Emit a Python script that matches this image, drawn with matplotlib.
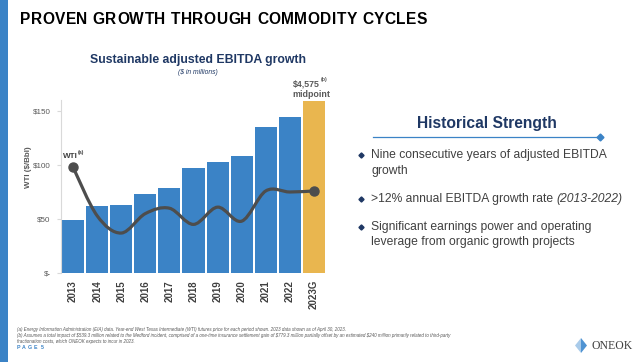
import matplotlib
matplotlib.use("Agg")
import matplotlib.pyplot as plt
import matplotlib.patches as patches
from matplotlib.path import Path
import numpy as np

W, H = 640, 362

# ---- data ----
years = ["2013", "2014", "2015", "2016", "2017", "2018", "2019", "2020", "2021", "2022", "2023G"]
ebitda = [1415, 1771, 1797, 2105, 2265, 2796, 2939, 3098, 3868, 4134, 4575]  # $ millions
wti = [98, 53, 37, 55, 60, 45, 61, 48, 76, 75, 76]  # $/Bbl
wti_ticks = [0, 50, 100, 150]
wti_ticklabels = ["$-", "$50", "$100", "$150"]
bullets = [
    ["Nine consecutive years of adjusted EBITDA", "growth"],
    [">12% annual EBITDA growth rate ", "(2013-2022)"],
    ["Significant earnings power and operating", "leverage from organic growth projects"],
]
footnotes = [
    "(a) Energy Information Administration (EIA) data. Year-end West Texas Intermediate (WTI) futures price for each period shown. 2023 data shown as of April 30, 2023.",
    "(b) Assumes a total impact of $539.3 million related to the Medford incident, comprised of a one-time insurance settlement gain of $779.3 million partially offset by an estimated $240 million primarily related to third-party",
    "fractionation costs, which ONEOK expects to incur in 2023.",
]

BLUE = "#3b83c6"
GOLD = "#e9b64f"
NAVY = "#1f3864"
GREY = "#595959"
DARK = "#404040"
FONT = ["Liberation Sans", "DejaVu Sans"]


def px(x, y):
    # pixel coords (top-left origin) -> figure fraction
    return x / W, 1 - y / H


fig = plt.figure(figsize=(W / 100, H / 100), dpi=100)
fig.patch.set_facecolor("white")
r = fig.canvas.get_renderer()


def fit(t, width):
    """scale a text's font size so that it spans `width` pixels"""
    w = t.get_window_extent(r).width
    t.set_fontsize(t.get_fontsize() * width / w)
    return t


def spaced(x, y, s, gap, space_w, **kw):
    """write text one character at a time with extra letter spacing"""
    for ch in s:
        if ch == " ":
            x += space_w
            continue
        t = fig.text(*px(x, y), ch, ha="left", va="center", **kw)
        x += t.get_window_extent(r).width + gap


# left stripe
fig.add_artist(patches.Rectangle((0, 0), 8 / W, 1, transform=fig.transFigure,
                                 facecolor=BLUE, edgecolor="none"))

# headline
spaced(20, 20, "PROVEN GROWTH THROUGH COMMODITY CYCLES", 0.45, 5,
       fontsize=11.2, fontweight="bold", family=FONT, color="black")

# ---- chart ----
ax = fig.add_axes([61 / W, 1 - 273 / H, 265 / W, 173 / H])
x = np.arange(len(years))
colors = [BLUE] * (len(years) - 1) + [GOLD]
ax.bar(x, ebitda, width=0.92, color=colors, edgecolor="none", zorder=1)
ax.set_xlim(-0.5, len(years) - 0.5)
ax.set_ylim(0, 4575 * 173 / 172.3)
ax.set_yticks([])
ax.set_xticks(x)
ax.set_xticklabels(years, rotation=90, fontsize=7, fontweight="bold",
                   color=DARK, family=FONT)
ax.tick_params(axis="x", length=0, pad=5)
for s in ax.spines.values():
    s.set_visible(False)
ax.patch.set_alpha(0)

ax2 = ax.twinx()
ax2.set_ylim(0, 160.2)
ax2.yaxis.tick_left()
ax2.set_yticks(wti_ticks)
ax2.set_yticklabels(wti_ticklabels, fontsize=5.8, color=GREY, family=FONT)
ax2.tick_params(axis="y", length=3, color="#d9d9d9", pad=4.5, direction="out")
for k, s in ax2.spines.items():
    s.set_visible(k == "left")
ax2.spines["left"].set_color("#d9d9d9")
ax2.spines["left"].set_linewidth(0.8)

# smooth WTI line (bezier through the points, catmull-rom style handles)
pts = np.column_stack([x, wti]).astype(float)
ext = np.vstack([pts[0], pts, pts[-1]])
verts = [tuple(pts[0])]
codes = [Path.MOVETO]
for i in range(len(pts) - 1):
    p0, p1, p2, p3 = ext[i], ext[i + 1], ext[i + 2], ext[i + 3]
    c1 = p1 + (p2 - p0) / 6
    c2 = p2 - (p3 - p1) / 6
    verts += [tuple(c1), tuple(c2), tuple(p2)]
    codes += [Path.CURVE4] * 3
ax2.add_patch(patches.PathPatch(Path(verts, codes), fill=False, edgecolor="#4d4d4d",
                                lw=2.3, capstyle="round", zorder=3))
ax2.plot([x[0], x[-1]], [wti[0], wti[-1]], "o", ms=6.5, color="#4d4d4d", zorder=4)

fig.text(*px(28, 167), "WTI ($/Bbl)", rotation=90, ha="center", va="center",
         fontsize=5.8, fontweight="bold", color=GREY, family=FONT)
fit(fig.text(*px(77.5, 156), "WTI", ha="right", va="center", fontsize=8,
             fontweight="bold", color=DARK, family=FONT), 15)
fig.text(*px(78, 152.5), "(a)", ha="left", va="center", fontsize=3.8,
         fontweight="bold", color=DARK, family=FONT)

fit(fig.text(*px(198.5, 60), "Sustainable adjusted EBITDA growth", ha="center",
             va="center", fontsize=11, fontweight="bold", color=NAVY, family=FONT), 215)
fit(fig.text(*px(198, 73), "($ in millions)", ha="center", va="center",
             fontsize=5.5, style="italic", color=NAVY, family=FONT), 40)
fit(fig.text(*px(320, 83.5), "$4,575", ha="right", va="center", fontsize=8,
             fontweight="bold", color=GREY, family=FONT), 27)
fig.text(*px(320.5, 80), "(b)", ha="left", va="center", fontsize=3.8,
         fontweight="bold", color=GREY, family=FONT)
fit(fig.text(*px(311.5, 94.5), "midpoint", ha="center", va="center", fontsize=8,
             fontweight="bold", color=GREY, family=FONT), 38)

# ---- right panel ----
fit(fig.text(*px(487, 123), "Historical Strength", ha="center", va="center",
             fontsize=14, fontweight="bold", color=NAVY, family=FONT), 140)
fig.add_artist(plt.Line2D([373 / W, 600 / W], [1 - 137.5 / H] * 2,
                          transform=fig.transFigure, color=BLUE, lw=0.9))
fig.add_artist(plt.Line2D([600 / W], [1 - 137.5 / H], transform=fig.transFigure,
                          marker="D", ms=3.5, color=BLUE))

# common size for the bullet text, set from the first line's width
probe = fig.text(0, 0, bullets[0][0], fontsize=10, family=FONT)
fit(probe, 237)
bfs = probe.get_fontsize()
probe.remove()

line_y = [[155, 171], [199.5], [226.5, 242.5]]
for b, ys in zip(bullets, line_y):
    fig.add_artist(plt.Line2D([361 / W], [1 - ys[0] / H], transform=fig.transFigure,
                              marker="D", ms=2.6, color=NAVY, lw=0))
    if len(ys) == 2:
        for s, yy in zip(b, ys):
            fig.text(*px(371, yy), s, ha="left", va="center", fontsize=bfs,
                     color=DARK, family=FONT)
    else:
        t = fig.text(*px(371, ys[0]), b[0], ha="left", va="center", fontsize=bfs,
                     color=DARK, family=FONT)
        w = t.get_window_extent(r).width
        fig.text(*px(371 + w, ys[0]), b[1], ha="left", va="center", fontsize=bfs,
                 style="italic", color=DARK, family=FONT)

# ---- footnotes ----
probe = fig.text(0, 0, footnotes[1], fontsize=5, style="italic", family=FONT,
                 parse_math=False)
fit(probe, 437)
ffs = probe.get_fontsize()
probe.remove()
for s, yy in zip(footnotes, [330, 335.7, 341]):
    fig.text(*px(17, yy), s, ha="left", va="center", fontsize=ffs, style="italic",
             color=GREY, family=FONT, parse_math=False)
spaced(17, 347.5, "PAGE 5", 1.6, 2.5, fontsize=3.8, fontweight="bold",
       family=FONT, color=BLUE)

# logo
cx, cy = 581, 345.5
fig.add_artist(patches.Polygon([px(cx - 6, cy), px(cx, cy - 7.5), px(cx, cy + 7.5)],
                               closed=True, transform=fig.transFigure,
                               facecolor="#a9cbea", edgecolor="none"))
fig.add_artist(patches.Polygon([px(cx + 6, cy), px(cx, cy - 7.5), px(cx, cy + 7.5)],
                               closed=True, transform=fig.transFigure,
                               facecolor="#4f93d2", edgecolor="none"))
fit(fig.text(*px(592, 346), "ONEOK", ha="left", va="center", fontsize=9,
             family=["Liberation Serif", "DejaVu Serif"], color=DARK), 41)

fig.savefig("out.png", dpi=100)
